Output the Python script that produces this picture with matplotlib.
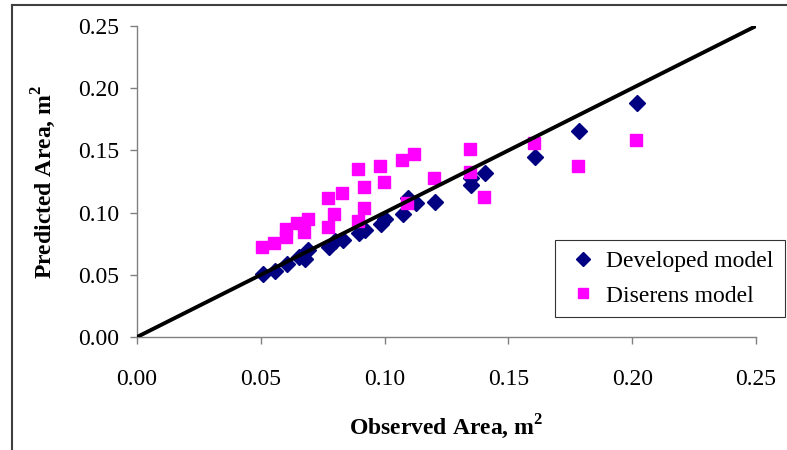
import matplotlib.pyplot as plt
from matplotlib.lines import Line2D

# observed vs predicted area (m^2)
developed_obs = [0.0508, 0.0557, 0.0607, 0.0655, 0.0680, 0.0692, 0.0775, 0.0800,
                 0.0832, 0.0896, 0.0921, 0.0985, 0.1002, 0.1075, 0.1096, 0.1128,
                 0.1204, 0.1349, 0.1349, 0.1405, 0.1607, 0.1787, 0.2019]
developed_pred = [0.0504, 0.0530, 0.0584, 0.0646, 0.0624, 0.0697, 0.0726, 0.0775,
                  0.0783, 0.0835, 0.0864, 0.0905, 0.0946, 0.0985, 0.1120, 0.1080,
                  0.1085, 0.1222, 0.1280, 0.1320, 0.1450, 0.1658, 0.1883]

diserens_obs = [0.0504, 0.0553, 0.0602, 0.0602, 0.0647, 0.0674, 0.0689, 0.0770,
                0.0770, 0.0796, 0.0827, 0.0891, 0.0891, 0.0917, 0.0917, 0.0981,
                0.0997, 0.1069, 0.1119, 0.1089, 0.1198, 0.1345, 0.1345, 0.1401,
                0.1603, 0.1781, 0.2015]
diserens_pred = [0.0721, 0.0753, 0.0868, 0.0801, 0.0914, 0.0846, 0.0946, 0.1120,
                 0.0882, 0.0989, 0.1155, 0.1348, 0.0932, 0.1203, 0.1039, 0.1377,
                 0.1248, 0.1425, 0.1474, 0.1080, 0.1280, 0.1509, 0.1330, 0.1123,
                 0.1557, 0.1377, 0.1584]

ticks = [0.00, 0.05, 0.10, 0.15, 0.20, 0.25]
tick_labels = ['0.00', '0.05', '0.10', '0.15', '0.20', '0.25']

plt.rcParams['font.family'] = ['Liberation Serif', 'DejaVu Serif']
plt.rcParams['mathtext.fontset'] = 'custom'
plt.rcParams['mathtext.rm'] = 'Liberation Serif'
plt.rcParams['mathtext.bf'] = 'Liberation Serif:bold'

fig = plt.figure(figsize=(7.87, 4.5), dpi=100)
ax = fig.add_axes([0.1741, 0.2511, 0.7865, 0.6911])

ax.plot(developed_obs, developed_pred, linestyle='none', marker='D', markersize=8.5,
        color='#000080', label='Developed model', zorder=3)
ax.plot(diserens_obs, diserens_pred, linestyle='none', marker='s', markersize=8.5,
        color='#FF00FF', label='Diserens model', zorder=4)
# 1:1 line
ax.plot([0, 0.25], [0, 0.25], color='black', linewidth=2.8, zorder=5)

ax.set_xlim(0, 0.25)
ax.set_ylim(0, 0.25)
ax.set_xticks(ticks)
ax.set_xticklabels(tick_labels)
ax.set_yticks(ticks)
ax.set_yticklabels(tick_labels)

for side in ['top', 'right']:
    ax.spines[side].set_visible(False)
for side in ['left', 'bottom']:
    ax.spines[side].set_color('#808080')
    ax.spines[side].set_linewidth(1.0)
ax.tick_params(axis='both', colors='#808080', labelcolor='black', labelsize=17,
               length=5, width=1.0, direction='out')
ax.tick_params(axis='x', pad=18)
ax.tick_params(axis='y', pad=8)

ax.set_xlabel('Observed Area, m$^\\mathbf{2}$', fontsize=17, fontweight='bold', labelpad=16)
ax.set_ylabel('Predicted Area, m$^\\mathbf{2}$', fontsize=17, fontweight='bold', labelpad=14)

leg = ax.legend(loc='upper left', bbox_to_anchor=(0.675, 0.074, 0.372, 0.238),
                mode='expand', fontsize=17, frameon=True, fancybox=False,
                edgecolor='black', handletextpad=0.2, handlelength=1.5,
                borderpad=0.45, labelspacing=0.55, markerscale=0.85, borderaxespad=0)
leg.get_frame().set_linewidth(0.8)

# outer chart border
fig.add_artist(Line2D([12 / 787, 1.0], [1 - 5 / 450, 1 - 5 / 450],
                      transform=fig.transFigure, color='#404040', linewidth=1.5))
fig.add_artist(Line2D([12 / 787, 12 / 787], [0.0, 1 - 5 / 450],
                      transform=fig.transFigure, color='#404040', linewidth=1.5))

fig.savefig('out.png', dpi=100)
